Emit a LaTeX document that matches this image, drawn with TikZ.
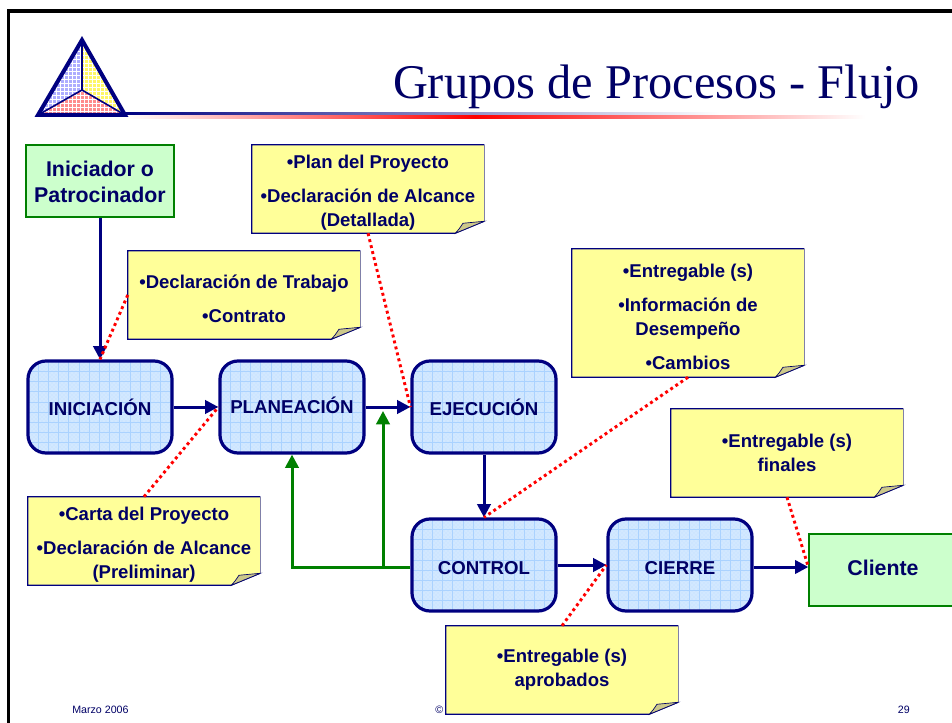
\documentclass[tikz,border=0pt]{standalone}
\usepackage{fontspec}
\setmainfont{Liberation Sans}
\newfontfamily\titlefont{Liberation Serif}
\usetikzlibrary{arrows.meta,patterns,shapes.misc}
\definecolor{navyc}{HTML}{000080}
\definecolor{inkc}{HTML}{000066}
\definecolor{procfill}{HTML}{D2E8FF}
\definecolor{procgrid}{HTML}{AAD2FF}
\definecolor{procdot}{HTML}{BEDCFF}
\definecolor{noteyellow}{HTML}{FFFF99}
\definecolor{foldtan}{HTML}{CCC88A}
\definecolor{notegrey}{HTML}{8080A8}
\definecolor{startgreen}{HTML}{CCFFCC}
\definecolor{edgegreen}{HTML}{008000}
\newcommand{\notetop}{\rule{0pt}{16pt}}
\newcommand{\dn}[2]{\raisebox{#1}[\height][\depth]{#2}}
\tikzset{
  x=0.75pt,y=-0.75pt,
  procbox/.style={rounded corners=13.5pt,draw=navyc,line width=2.4pt,fill=procfill,
    minimum width=108pt,minimum height=69pt,inner sep=0pt,text=inkc,
    font=\fontsize{14}{17}\selectfont\bfseries,
    path picture={
      \fill[pattern=crosshatch dots,pattern color=procdot]
        (path picture bounding box.south west) rectangle (path picture bounding box.north east);
      \foreach \k in {1,...,15}{
        \draw[procgrid,line width=0.6pt]
          ([xshift=\k*7.65pt]path picture bounding box.south west) -- ([xshift=\k*7.65pt]path picture bounding box.north west);
      }
      \foreach \k in {1,...,9}{
        \draw[procgrid,line width=0.6pt]
          ([yshift=\k*7.65pt]path picture bounding box.south west) -- ([yshift=\k*7.65pt]path picture bounding box.south east);
      }
    }},
  startbox/.style={rectangle,draw=edgegreen,line width=1pt,fill=startgreen,
    minimum width=111pt,minimum height=54pt,inner sep=0pt,text=inkc,align=center,
    font=\fontsize{16}{19.5}\selectfont\bfseries},
  notebox/.style={rectangle,fill=noteyellow,minimum width=174pt,inner sep=0pt,text=inkc,align=center,
    font=\fontsize{13.9}{18}\selectfont\bfseries},
  flow/.style={navyc,line width=2.25pt,-{Triangle[length=10pt,width=10pt]}},
  back/.style={edgegreen,line width=2.25pt,-{Triangle[length=10pt,width=10pt]}},
  reddot/.style={red,line width=2.2pt,dash pattern=on 2.2pt off 2.4pt},
  footer/.style={text=inkc,font=\fontsize{8}{10}\selectfont,inner sep=0pt},
}
\newcommand{\notefold}[1]{%
  \fill[white] ([xshift=-21.75pt]#1.south east) -- (#1.south east) -- ([yshift=9pt]#1.south east) -- cycle;
  \draw[navyc,line width=0.8pt] ([yshift=9pt]#1.south east) -- ([xshift=-21.75pt]#1.south east) -- (#1.south west) -- (#1.north west) -- (#1.north east);
  \draw[notegrey,line width=1.1pt] (#1.north east) -- ([yshift=9pt]#1.south east);
  \fill[foldtan,draw=inkc,line width=0.5pt] ([yshift=9pt]#1.south east) -- ([xshift=-21.75pt]#1.south east)
     .. controls ([xshift=-19pt,yshift=3pt]#1.south east) .. ([xshift=-16pt,yshift=7.5pt]#1.south east) -- cycle;
}
\begin{document}
\begin{tikzpicture}
\useasboundingbox (0,0) rectangle (952,723);
\clip (0,0) rectangle (952,723);
\fill[white] (0,0) rectangle (952,723);
% frame
\draw[black,line width=2.5pt] (8.5,723) -- (8.5,11) -- (952,11);
% title rule
\shade[left color=navyc,right color=white] (125,113) rectangle (720,115.6);
\shade[left color=white,right color=red] (125,115.6) rectangle (475,118.5);
\shade[left color=red,right color=white] (475,115.6) rectangle (865,118.5);
% logo
\path[fill=blue!32!white,postaction={pattern=grid,pattern color=white}] (82,40) -- (82,90) -- (38,115) -- cycle;
\path[fill=yellow!60!white,postaction={pattern=grid,pattern color=white}] (82,40) -- (82,90) -- (125,115) -- cycle;
\path[fill=red!45!white,postaction={pattern=grid,pattern color=white}] (82,90) -- (38,115) -- (125,115) -- cycle;
\draw[navyc,line width=1.2pt] (82,40) -- (82,90) (38,115) -- (82,90) -- (125,115);
\draw[navyc,line width=3pt,line join=miter] (82,40) -- (38,115) -- (125,115) -- cycle;
\node[anchor=base,inner sep=0pt,text=inkc,font=\titlefont\fontsize{36.3}{44}\selectfont] (ttl) at (656.5,99) {Grupos de Procesos - Flujo};
% footer
\node[footer,anchor=base west] (fa) at (72,713) {Marzo 2006};
\node[footer,anchor=base west] (fb) at (435,713) {©};
\node[footer,anchor=base east] (fc) at (910,713) {29};
% process boxes
\node[startbox] (ini) at (100,181) {\dn{-0.75pt}{Iniciador o}\\\dn{-0.75pt}{Patrocinador}};
\node[procbox] (inic) at (100,407) {INICIACIÓN};
\node[procbox] (plan) at (292,407) {\dn{1.5pt}{PLANEACIÓN}};
\node[procbox] (ejec) at (484,407) {EJECUCIÓN};
\node[procbox] (ctrl) at (484,565) {\dn{-2pt}{CONTROL}};
\node[procbox] (cier) at (680,565) {\dn{-2pt}{CIERRE}};
\node[startbox] (clie) at (883,570) {\dn{1.5pt}{Cliente}};
% notes
\node[notebox,minimum height=66pt] (nplan) at (368,189) {\notetop •Plan del Proyecto\\[7.5pt]•Declaración de Alcance\\(Detallada)};
\notefold{nplan}
\node[notebox,minimum height=66pt] (ntrab) at (244,295) {\notetop •Declaración de Trabajo\\[7.5pt]•Contrato};
\notefold{ntrab}
\node[notebox,minimum height=96pt] (nentr) at (688,313) {\notetop •Entregable (s)\\[7.5pt]•Información de\\Desempeño\\[7.5pt]•Cambios};
\notefold{nentr}
\node[notebox,minimum height=66pt] (nfin) at (787,453) {•Entregable (s)\\finales};
\notefold{nfin}
\node[notebox,minimum height=66pt] (ncart) at (144,541) {\notetop •Carta del Proyecto\\[7.5pt]•Declaración de Alcance\\(Preliminar)};
\notefold{ncart}
\node[notebox,minimum height=66pt] (naprb) at (562,670) {•Entregable (s)\\aprobados};
\notefold{naprb}
% connectors
\draw[flow] (ini.south) -- (inic.north);
\draw[flow] (inic.east) -- (plan.west);
\draw[flow] (plan.east) -- (ejec.west);
\draw[flow] (ejec.south) -- (ctrl.north);
\draw[flow] (ctrl.east) -- (cier.west);
\draw[flow] ([yshift=-1.5pt]cier.east) -- ([yshift=2.25pt]clie.west);
\coordinate (gj) at (383,567);
\coordinate (gt) at (383,411);
\draw[back] ([yshift=-1.5pt]ctrl.west) -- (gj) -| (plan.south);
\draw[back] (gj) -- (gt);
% dotted links
\draw[reddot] (ntrab.west) -- (inic.north);
\draw[reddot] (ncart.north) -- (plan.west);
\draw[reddot] (nplan.south) -- (ejec.west);
\draw[reddot] (nentr.south) -- (ctrl.north);
\draw[reddot] (nfin.south) -- ([yshift=2.25pt]clie.west);
\draw[reddot] (naprb.north) -- (cier.west);
\end{tikzpicture}
\end{document}
